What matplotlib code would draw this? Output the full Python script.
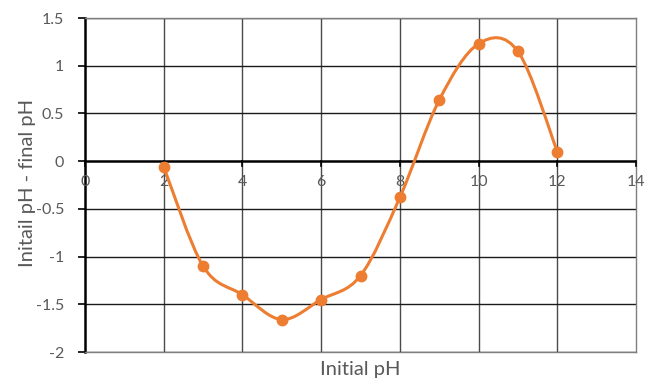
import matplotlib
matplotlib.use("Agg")
import matplotlib.pyplot as plt
from matplotlib.path import Path
from matplotlib.patches import PathPatch
import numpy as np

x_vals = [2, 3, 4, 5, 6, 7, 8, 9, 10, 11, 12]
y_vals = [-0.06, -1.10, -1.40, -1.66, -1.45, -1.20, -0.38, 0.64, 1.23, 1.15, 0.10]
x_ticks = [0, 2, 4, 6, 8, 10, 12, 14]
y_ticks = [-2, -1.5, -1, -0.5, 0, 0.5, 1, 1.5]
y_tick_labels = ["-2", "-1.5", "-1", "-0.5", "0", "0.5", "1", "1.5"]

plt.rcParams['font.family'] = ['Lato', 'DejaVu Sans']
orange = '#ED7D31'
grey_txt = '#595959'

fig = plt.figure(figsize=(6.54, 3.80), dpi=100)
ax = fig.add_axes([85/654, 28/380, (636-85)/654, (352-18)/380])
ax.set_xlim(0, 14)
ax.set_ylim(-2, 1.5)

# gridlines
for xv in x_ticks[1:-1]:
    ax.axvline(xv, color='#4a4a4a', lw=1.0, zorder=1)
for yv in y_ticks:
    if yv != 0:
        ax.axhline(yv, color='#1a1a1a', lw=1.0, zorder=1)

for s in ['top', 'right', 'bottom']:
    ax.spines[s].set_color('#7f7f7f')
    ax.spines[s].set_linewidth(1.0)
ax.spines['left'].set_color('black')
ax.spines['left'].set_linewidth(1.8)

# x-axis line at y=0
ax.axhline(0, color='black', lw=1.8, zorder=2)

ax.set_yticks(y_ticks)
ax.set_yticklabels(y_tick_labels)
ax.set_xticks([])
ax.tick_params(axis='y', direction='out', length=5, width=1.2, colors='black',
               labelcolor=grey_txt, labelsize=11.5, pad=10)

# x tick marks and labels at y=0
for xv in x_ticks:
    ax.plot([xv, xv], [0, -0.05], color='black', lw=1.2, clip_on=False, zorder=3)
    ax.text(xv, -0.15, str(xv), ha='center', va='top', color=grey_txt, fontsize=11.5, zorder=3)

# Excel-like smoothed curve (Bezier)
pts = np.column_stack([x_vals, y_vals])
n = len(pts)
verts = [tuple(pts[0])]
codes = [Path.MOVETO]
for i in range(n - 1):
    p0 = pts[i - 1] if i > 0 else pts[i]
    p1 = pts[i]
    p2 = pts[i + 1]
    p3 = pts[i + 2] if i + 2 < n else pts[i + 1]
    c1 = p1 + (p2 - p0) / 6
    c2 = p2 - (p3 - p1) / 6
    verts += [tuple(c1), tuple(c2), tuple(p2)]
    codes += [Path.CURVE4] * 3
ax.add_patch(PathPatch(Path(verts, codes), facecolor='none', edgecolor=orange, lw=2.2, zorder=4))
ax.plot(x_vals, y_vals, 'o', color=orange, markersize=7.5, zorder=5)

fig.text(360/654, 1 - 369/380, 'Initial pH', ha='center', va='center', color=grey_txt, fontsize=14.5)
fig.text(28/654, 1 - 183/380, 'Initail pH - final pH', ha='center', va='center', rotation=90,
         color=grey_txt, fontsize=14.5)

fig.savefig('out.png', dpi=100)
